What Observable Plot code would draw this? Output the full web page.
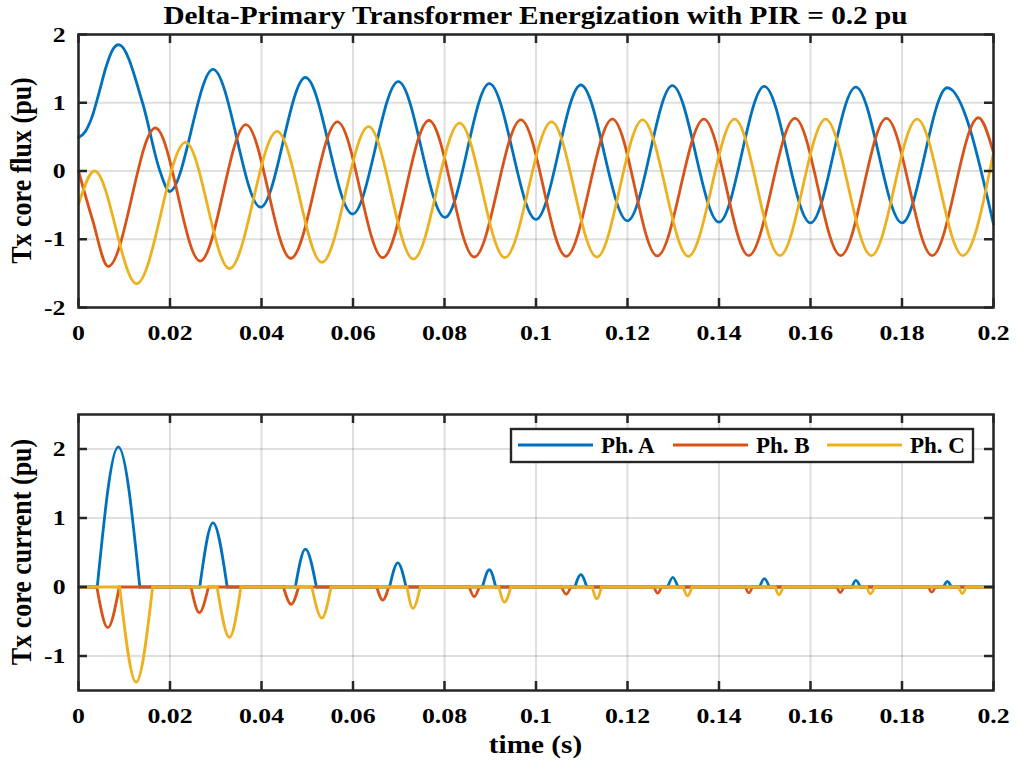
<!DOCTYPE html>
<html><head><meta charset="utf-8">
<script src="https://cdn.jsdelivr.net/npm/d3@7"></script>
<script src="https://cdn.jsdelivr.net/npm/@observablehq/plot@0.6"></script>
<style>
html,body{margin:0;padding:0;background:#fff;}
#chart{position:relative;width:1017px;height:767px;overflow:hidden;background:#fff;}
#chart > svg{position:absolute;left:0;}
</style></head><body><div id="chart"></div>
<script>
// ---------- data ----------
const title = "Delta-Primary Transformer Energization with PIR = 0.2 pu";
const xLabel = "time (s)";
const yLabelFlux = "Tx core flux (pu)";
const yLabelCurrent = "Tx core current (pu)";
const phases = ["Ph. A", "Ph. B", "Ph. C"];
const colors = ["#0072BD", "#D95319", "#EDB120"];
const xTicks = [0, 0.02, 0.04, 0.06, 0.08, 0.1, 0.12, 0.14, 0.16, 0.18, 0.2];
const xTickLabels = ["0", "0.02", "0.04", "0.06", "0.08", "0.1", "0.12", "0.14", "0.16", "0.18", "0.2"];
const fluxTicks = [-2, -1, 0, 1, 2];
const currentTicks = [-1, 0, 1, 2];

// flux: [time, value] at extrema and a few read points
const fluxA = [[0,0.49],[0.0015,0.58],[0.003,0.80],[0.0045,1.15],[0.006,1.52],[0.0075,1.78],[0.0088,1.85],
  [0.014,1.0],[0.0178,0.0],[0.0199,-0.30],[0.0294,1.49],[0.0398,-0.53],[0.0496,1.37],[0.0599,-0.63],
  [0.0699,1.31],[0.0801,-0.68],[0.0898,1.28],[0.1000,-0.71],[0.1098,1.26],[0.1200,-0.73],[0.1298,1.25],
  [0.1400,-0.75],[0.1499,1.24],[0.1600,-0.76],[0.1699,1.23],[0.1800,-0.76],[0.1899,1.22],[0.2,-0.78]];
const fluxB = [[0,0.0],[0.003,-0.70],[0.0065,-1.40],[0.0168,0.63],[0.0266,-1.32],[0.0366,0.68],[0.0464,-1.28],
  [0.0566,0.72],[0.0665,-1.27],[0.0766,0.74],[0.0865,-1.26],[0.0967,0.75],[0.1066,-1.25],[0.1167,0.76],
  [0.1265,-1.245],[0.1367,0.76],[0.1465,-1.24],[0.1566,0.77],[0.1666,-1.24],[0.1766,0.77],[0.1866,-1.24],
  [0.1967,0.78],[0.2,0.27]];
const fluxC = [[0,-0.49],[0.0035,0.0],[0.0127,-1.65],[0.0234,0.42],[0.0330,-1.43],[0.0434,0.58],[0.0532,-1.34],
  [0.0634,0.65],[0.0732,-1.29],[0.0833,0.70],[0.0932,-1.27],[0.1034,0.72],[0.1133,-1.26],[0.1233,0.75],
  [0.1333,-1.25],[0.1434,0.76],[0.1533,-1.24],[0.1633,0.76],[0.1733,-1.24],[0.1833,0.76],[0.1933,-1.24],
  [0.2,0.27]];

// current pulses: [start, peak time, peak value, end]; zero elsewhere
const currentA = [[0.0041,0.0087,2.03,0.0134],[0.0265,0.0294,0.93,0.0325],[0.0474,0.0496,0.55,0.0520],
  [0.0680,0.0698,0.35,0.0716],[0.0883,0.0898,0.25,0.0912],[0.1085,0.1098,0.18,0.1111],[0.1288,0.1299,0.14,0.1310],
  [0.1489,0.1499,0.12,0.1510],[0.1691,0.1699,0.095,0.1709],[0.1891,0.1899,0.08,0.1908]];
const currentB = [[0.0040,0.0064,-0.59,0.0089],[0.0246,0.0264,-0.37,0.0284],[0.0448,0.0465,-0.25,0.0481],
  [0.0652,0.0665,-0.19,0.0678],[0.0854,0.0865,-0.14,0.0876],[0.1056,0.1066,-0.105,0.1076],[0.1258,0.1266,-0.09,0.1274],
  [0.1458,0.1465,-0.085,0.1473],[0.1658,0.1665,-0.08,0.1673],[0.1858,0.1865,-0.075,0.1873]];
const currentC = [[0.0090,0.0126,-1.38,0.0162],[0.0303,0.0330,-0.73,0.0355],[0.0510,0.0532,-0.45,0.0552],
  [0.0718,0.0731,-0.31,0.0747],[0.0919,0.0931,-0.22,0.0945],[0.1123,0.1133,-0.17,0.1143],[0.1322,0.1331,-0.13,0.1341],
  [0.1523,0.1531,-0.115,0.1540],[0.1723,0.1731,-0.10,0.1740],[0.1924,0.1932,-0.095,0.1940]];

// ---------- drawing ----------
const FONT = "'Liberation Serif','Times New Roman',Times,serif";
const DARK = "#262626";
const W = 1017, ML = 78, MR = 24;
const innerW = W - ML - MR;
const S = 1.17; // horizontal text stretch of the reference

const fluxSeries = [fluxA, fluxB, fluxC].map(arr => arr.map(([t, v]) => ({t, v})));
const currentSeries = [currentA, currentB, currentC];
const xFmt = d => xTickLabels[xTicks.indexOf(d)] ?? String(d);

function frameMarks(yTicks, innerH) {
  return [
    Plot.axisX(xTicks, {tickSize: 0, tickPadding: 17, tickFormat: xFmt, label: null, fontSize: 22}),
    Plot.axisY(yTicks, {tickSize: 0, tickPadding: 13, tickFormat: d => String(d), label: null, fontSize: 22}),
    Plot.ruleX(xTicks, {insetTop: innerH - 9, stroke: DARK, strokeWidth: 2.5}),
    Plot.ruleX(xTicks, {insetBottom: innerH - 9, stroke: DARK, strokeWidth: 2.5}),
    Plot.ruleY(yTicks, {insetRight: innerW - 9, stroke: DARK, strokeWidth: 2.5}),
    Plot.ruleY(yTicks, {insetLeft: innerW - 9, stroke: DARK, strokeWidth: 2.5}),
    Plot.frame({stroke: DARK, strokeWidth: 2.5})
  ];
}
function gridMarks(yTicks) {
  return [
    Plot.gridX(xTicks, {stroke: DARK, strokeOpacity: 0.15, strokeWidth: 2}),
    Plot.gridY(yTicks, {stroke: DARK, strokeOpacity: 0.15, strokeWidth: 2})
  ];
}
const style = {fontFamily: FONT, fontWeight: "bold", fontSize: "22px", color: "#000", background: "transparent", overflow: "visible"};

// top panel
const topH = 360, topMT = 34, topMB = 53;
const topPlot = Plot.plot({
  width: W, height: topH, marginTop: topMT, marginBottom: topMB, marginLeft: ML, marginRight: MR,
  x: {domain: [0, 0.2]}, y: {domain: [-2, 2]}, style,
  marks: [
    ...gridMarks(fluxTicks),
    ...fluxSeries.map((s, i) => Plot.line(s, {x: "t", y: "v", stroke: colors[i], strokeWidth: 2.8, curve: "monotone-x"})),
    ...frameMarks(fluxTicks, topH - topMT - topMB)
  ]
});

// bottom panel
function baselineRows(pulses) {
  const rows = []; let prev = 0;
  pulses.forEach(([s, , , e], k) => { rows.push({t: prev, v: 0, seg: k}, {t: s, v: 0, seg: k}); prev = e; });
  rows.push({t: prev, v: 0, seg: pulses.length}, {t: 0.2, v: 0, seg: pulses.length});
  return rows;
}
function pulseRows(pulses) {
  return pulses.flatMap(([s, pt, pv, e], k) => [{t: s, v: 0, seg: k}, {t: pt, v: pv, seg: k}, {t: e, v: 0, seg: k}]);
}
const botH = 407, botMT = 54, botMB = 77;
const botPlot = Plot.plot({
  width: W, height: botH, marginTop: botMT, marginBottom: botMB, marginLeft: ML, marginRight: MR,
  x: {domain: [0, 0.2]}, y: {domain: [-1.5, 2.5]}, style,
  marks: [
    ...gridMarks(currentTicks),
    ...currentSeries.flatMap((p, i) => [
      Plot.line(baselineRows(p), {x: "t", y: "v", z: "seg", stroke: colors[i], strokeWidth: 2.8}),
      Plot.line(pulseRows(p), {x: "t", y: "v", z: "seg", stroke: colors[i], strokeWidth: 2.8, curve: "monotone-x"})
    ]),
    ...frameMarks(currentTicks, botH - botMT - botMB)
  ]
});

// stretch tick labels horizontally about their anchor point
function stretchTexts(svg) {
  svg.querySelectorAll("text").forEach(t => {
    const tr = t.getAttribute("transform") || "";
    const x = parseFloat(t.getAttribute("x")) || 0;
    t.setAttribute("transform", `${tr} translate(${x},0) scale(${S},1) translate(${-x},0)`);
  });
}
stretchTexts(topPlot); stretchTexts(botPlot);

const chart = document.getElementById("chart");
topPlot.style.top = "0px";
botPlot.style.top = topH + "px";
chart.appendChild(topPlot);
chart.appendChild(botPlot);

// overlay: title, axis labels, legend
const NS = "http://www.w3.org/2000/svg";
const ov = document.createElementNS(NS, "svg");
ov.setAttribute("width", W); ov.setAttribute("height", 767);
ov.style.position = "absolute"; ov.style.top = "0px"; ov.style.left = "0px";
ov.setAttribute("font-family", FONT); ov.setAttribute("font-weight", "bold");
function txt(str, x, y, size, anchor, transform) {
  const t = document.createElementNS(NS, "text");
  t.textContent = str; t.setAttribute("font-size", size); t.setAttribute("text-anchor", anchor);
  t.setAttribute("fill", "#000");
  t.setAttribute("transform", transform || `translate(${x},${y}) scale(${S},1)`);
  ov.appendChild(t); return t;
}
const cx = ML + innerW / 2;
txt(title, cx, 24, 25, "middle");
txt(xLabel, cx, 753, 25, "middle");
txt(yLabelFlux, 0, 0, 26, "middle", `translate(31,${topMT + (topH - topMT - topMB) / 2}) rotate(-90) scale(1,${S})`);
txt(yLabelCurrent, 0, 0, 26, "middle", `translate(31,${topH + botMT + (botH - botMT - botMB) / 2}) rotate(-90) scale(1,${S})`);

// legend
const lg = {x: 511, y: 429, w: 462, h: 33};
const rect = document.createElementNS(NS, "rect");
rect.setAttribute("x", lg.x); rect.setAttribute("y", lg.y); rect.setAttribute("width", lg.w); rect.setAttribute("height", lg.h);
rect.setAttribute("fill", "#fff"); rect.setAttribute("stroke", DARK); rect.setAttribute("stroke-width", 2.4);
ov.appendChild(rect);
const itemX = [518, 673, 827];
phases.forEach((p, i) => {
  const l = document.createElementNS(NS, "line");
  l.setAttribute("x1", itemX[i]); l.setAttribute("x2", itemX[i] + 75);
  l.setAttribute("y1", lg.y + 16); l.setAttribute("y2", lg.y + 16);
  l.setAttribute("stroke", colors[i]); l.setAttribute("stroke-width", 3);
  ov.appendChild(l);
  txt(p, 0, 0, 23, "start", `translate(${itemX[i] + 83},${lg.y + 24})`);
});
chart.appendChild(ov);
</script></body></html>
